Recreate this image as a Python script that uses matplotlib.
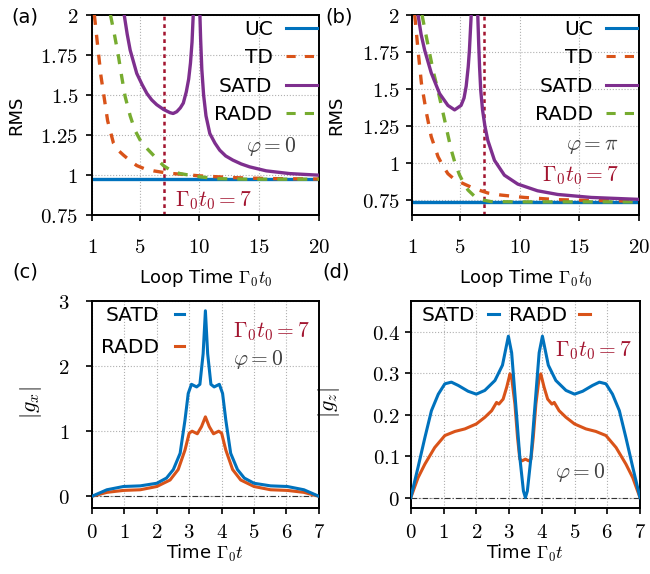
import numpy as np
import matplotlib
matplotlib.use("Agg")
import matplotlib.pyplot as plt
import matplotlib.ticker as ticker

plt.rcParams['font.family'] = ['DejaVu Sans']
plt.rcParams['mathtext.fontset'] = 'cm'
plt.rcParams['axes.unicode_minus'] = False

# colours
BLUE = "#0072BD"
ORANGE = "#D95319"
PURPLE = "#7E2F8E"
GREEN = "#77AC30"
CRIMSON = "#A2142F"
GREY = "#404040"

# ---- data: panel (a), phi = 0 ----
a_uc = 0.975
a_td_x = [1.2, 1.4, 1.56, 1.75, 1.97, 2.31, 2.8, 3.2, 3.64, 4.2, 4.75, 5.4, 6.15, 7.0, 7.8, 10.0, 12.8, 15.6, 20.0]
a_td_y = [2.0, 1.86, 1.75, 1.62, 1.51, 1.34, 1.2, 1.155, 1.125, 1.09, 1.06, 1.04, 1.027, 1.017, 1.01, 0.996, 0.985, 0.979, 0.976]
a_radd_x = [2.55, 2.9, 3.2, 3.5, 3.78, 4.2, 4.6, 5.1, 5.6, 5.87, 6.98, 7.6, 8.37, 10.0, 11.5, 14.0, 20.0]
a_radd_y = [2.0, 1.87, 1.75, 1.61, 1.49, 1.37, 1.28, 1.21, 1.167, 1.146, 1.06, 1.03, 1.01, 0.99, 0.978, 0.975, 0.975]
a_satd_x = [3.7, 3.95, 4.2, 4.75, 5.2, 5.6, 6.0, 6.42, 7.0, 7.54, 7.8, 8.1, 8.4, 8.65, 8.9, 9.1, 9.25, 9.38, 9.48,
            np.nan,
            10.04, 10.1, 10.2, 10.35, 10.55, 10.87, 11.3, 11.7, 12.2, 12.8, 13.5, 14.2, 15.6, 17.55, 20.0]
a_satd_y = [2.0, 1.88, 1.78, 1.635, 1.565, 1.51, 1.47, 1.44, 1.41, 1.39, 1.385, 1.396, 1.42, 1.45, 1.52, 1.6, 1.7, 1.83, 2.0,
            np.nan,
            2.0, 1.85, 1.66, 1.5, 1.37, 1.26, 1.2, 1.156, 1.12, 1.094, 1.07, 1.052, 1.027, 1.01, 1.0]

# ---- data: panel (b), phi = pi ----
b_uc = 0.739
b_td_x = [1.22, 1.5, 1.78, 2.2, 2.6, 3.17, 3.6, 4.0, 4.5, 5.1, 6.2, 7.34, 8.45, 10.4, 13.2, 16.0, 20.0]
b_td_y = [2.0, 1.76, 1.54, 1.34, 1.18, 1.045, 0.98, 0.93, 0.895, 0.87, 0.83, 0.80, 0.786, 0.77, 0.755, 0.75, 0.745]
b_radd_x = [1.83, 2.15, 2.47, 2.8, 3.17, 3.45, 3.73, 4.0, 4.28, 4.6, 4.98, 5.3, 5.68, 6.2, 6.79, 7.6, 10.0, 20.0]
b_radd_y = [2.0, 1.87, 1.74, 1.61, 1.49, 1.39, 1.29, 1.19, 1.09, 1.0, 0.92, 0.87, 0.82, 0.78, 0.755, 0.742, 0.74, 0.74]
b_satd_x = [1.5, 1.75, 2.06, 2.6, 3.3, 4.0, 4.56, 5.1, 5.35, 5.53, 5.7, 5.8, 5.95,
            np.nan,
            6.5, 6.58, 6.65, 6.75, 6.9, 7.1, 7.34, 7.9, 8.73, 9.85, 11.5, 13.2, 16.0, 20.0]
b_satd_y = [2.0, 1.87, 1.76, 1.61, 1.47, 1.39, 1.36, 1.39, 1.44, 1.52, 1.65, 1.76, 2.0,
            np.nan,
            2.0, 1.8, 1.65, 1.49, 1.36, 1.25, 1.155, 1.02, 0.92, 0.86, 0.815, 0.79, 0.77, 0.757]

# ---- data: panel (c), |g_x| ----
c_satd_t = [0, 0.46, 0.97, 1.49, 2.0, 2.3, 2.51, 2.72, 2.87, 2.97, 3.07, 3.15, 3.23, 3.33, 3.43, 3.5,
            3.57, 3.67, 3.77, 3.85, 3.93, 4.03, 4.13, 4.28, 4.49, 4.7, 5.0, 5.51, 6.03, 6.54, 7.0]
c_satd_g = [0, 0.10, 0.15, 0.16, 0.2, 0.28, 0.41, 0.66, 1.17, 1.58, 1.72, 1.70, 1.68, 1.72, 2.19, 2.85,
            2.19, 1.72, 1.68, 1.70, 1.72, 1.58, 1.17, 0.66, 0.41, 0.28, 0.2, 0.16, 0.15, 0.10, 0]
c_radd_t = [0, 0.46, 0.97, 1.49, 2.0, 2.41, 2.66, 2.87, 3.0, 3.09, 3.25, 3.38, 3.5,
            3.62, 3.75, 3.91, 4.0, 4.13, 4.34, 4.59, 5.0, 5.51, 6.03, 6.54, 7.0]
c_radd_g = [0, 0.06, 0.09, 0.10, 0.15, 0.25, 0.41, 0.71, 0.97, 1.0, 0.96, 1.07, 1.22,
            1.07, 0.96, 1.0, 0.97, 0.71, 0.41, 0.25, 0.15, 0.10, 0.09, 0.06, 0]

# ---- data: panel (d), |g_z| ----
d_satd_t = [0, 0.22, 0.43, 0.63, 0.84, 1.04, 1.24, 1.45, 1.75, 2.0, 2.26, 2.57, 2.8, 2.98, 3.08, 3.16, 3.23, 3.33, 3.44, 3.5,
            3.56, 3.67, 3.77, 3.84, 3.92, 4.02, 4.2, 4.43, 4.74, 5.0, 5.25, 5.55, 5.76, 5.96, 6.16, 6.37, 6.57, 6.78, 7.0]
d_satd_g = [0, 0.073, 0.145, 0.21, 0.25, 0.275, 0.279, 0.271, 0.257, 0.25, 0.259, 0.283, 0.32, 0.39, 0.35, 0.27, 0.2, 0.097, 0.016, 0,
            0.016, 0.097, 0.2, 0.27, 0.35, 0.39, 0.32, 0.283, 0.259, 0.25, 0.257, 0.271, 0.279, 0.275, 0.25, 0.21, 0.145, 0.073, 0]
d_radd_t = [0, 0.22, 0.43, 0.73, 1.04, 1.35, 1.65, 2.0, 2.26, 2.47, 2.62, 2.69, 2.82, 2.93, 3.03, 3.08, 3.18, 3.26, 3.33, 3.40, 3.5,
            3.60, 3.67, 3.74, 3.82, 3.92, 3.97, 4.07, 4.18, 4.31, 4.38, 4.53, 4.74, 5.0, 5.35, 5.65, 5.96, 6.27, 6.57, 6.78, 7.0]
d_radd_g = [0, 0.048, 0.081, 0.121, 0.15, 0.16, 0.166, 0.178, 0.194, 0.21, 0.23, 0.226, 0.238, 0.267, 0.299, 0.29, 0.226, 0.145, 0.093, 0.089, 0.093,
            0.089, 0.093, 0.145, 0.226, 0.29, 0.299, 0.267, 0.238, 0.226, 0.23, 0.21, 0.194, 0.178, 0.166, 0.16, 0.15, 0.121, 0.081, 0.048, 0]

t0 = 7
TICK_FS = 15
LEG_FS = 14.5
LAB_FS = 13
ANN_FS = 15.5

fig = plt.figure(figsize=(6.5, 5.74), dpi=100)
ax_a = fig.add_axes([0.1415, 0.625, 0.349, 0.349])
ax_b = fig.add_axes([0.634, 0.625, 0.349, 0.349])
ax_c = fig.add_axes([0.1415, 0.115, 0.349, 0.3606])
ax_d = fig.add_axes([0.632, 0.115, 0.3526, 0.3606])


def style(ax, xpad, ypad):
    ax.grid(True, color="#b0b0b0", linestyle=":", linewidth=0.8)
    ax.set_axisbelow(True)
    for s in ax.spines.values():
        s.set_linewidth(1.4)
    ax.tick_params(direction="out", length=4, width=1.2, labelsize=TICK_FS)
    ax.tick_params(axis="x", pad=xpad)
    ax.tick_params(axis="y", pad=ypad)
    ax.xaxis.set_major_formatter(ticker.FuncFormatter(lambda v, p: "$%g$" % v))
    ax.yaxis.set_major_formatter(ticker.FuncFormatter(lambda v, p: "$%g$" % v))


def rms_panel(ax, uc, td_x, td_y, satd_x, satd_y, radd_x, radd_y, ylo, ypad):
    ax.axvline(t0, color=CRIMSON, linestyle=(0, (1.5, 1.5)), linewidth=1.8, zorder=1)
    ax.axhline(uc, color=BLUE, linewidth=2.4, label="UC", zorder=2)
    ax.plot(td_x, td_y, color=ORANGE, linewidth=2.4, linestyle=(0, (3, 3)), label="TD", zorder=3)
    ax.plot(satd_x, satd_y, color=PURPLE, linewidth=2.4, label="SATD", zorder=4)
    ax.plot(radd_x, radd_y, color=GREEN, linewidth=2.4, linestyle=(0, (3, 3)), label="RADD", zorder=3)
    ax.set_xlim(1, 20)
    ax.set_ylim(ylo, 2)
    ax.set_xticks([1, 5, 10, 15, 20])
    ax.set_yticks([0.75, 1, 1.25, 1.5, 1.75, 2])
    style(ax, 12, ypad)
    ax.set_xlabel(r"Loop Time $\Gamma_0 t_0$", fontsize=LAB_FS)
    ax.set_ylabel("RMS", fontsize=LAB_FS)
    ax.xaxis.set_label_coords(0.5, -0.26)
    ax.yaxis.set_label_coords(-0.295, 0.5)
    leg = ax.legend(loc="upper right", frameon=False, markerfirst=False, fontsize=LEG_FS,
                    handlelength=1.55, handletextpad=0.65, labelspacing=0.47,
                    borderaxespad=0.0, borderpad=0.1, bbox_to_anchor=(1.0, 0.985))
    for ln in leg.get_lines():
        ln.set_linewidth(2.2)


rms_panel(ax_a, a_uc, a_td_x, a_td_y, a_satd_x, a_satd_y, a_radd_x, a_radd_y, 0.75, 6)
ax_a.text(13.9, 1.177, r"$\varphi = 0$", color=GREY, fontsize=ANN_FS, va="center")
ax_a.text(7.95, 0.844, r"$\Gamma_0 t_0 = 7$", color=CRIMSON, fontsize=ANN_FS, va="center")

rms_panel(ax_b, b_uc, b_td_x, b_td_y, b_satd_x, b_satd_y, b_radd_x, b_radd_y, 0.65, 5)
ax_b.text(13.9, 1.117, r"$\varphi = \pi$", color=GREY, fontsize=ANN_FS, va="center")
ax_b.text(11.9, 0.92, r"$\Gamma_0 t_0 = 7$", color=CRIMSON, fontsize=ANN_FS, va="center")

# panel (c)
ax_c.axhline(0, color="#333333", linewidth=0.8, linestyle=(0, (5, 2, 1, 2)), zorder=1)
ax_c.plot(c_satd_t, c_satd_g, color=BLUE, linewidth=2.2, label="SATD", zorder=3)
ax_c.plot(c_radd_t, c_radd_g, color=ORANGE, linewidth=2.2, label="RADD", zorder=2)
ax_c.set_xlim(0, 7)
ax_c.set_ylim(-0.18, 3)
ax_c.set_xticks(range(8))
ax_c.set_yticks([0, 1, 2, 3])
style(ax_c, 6, 12)
ax_c.set_xlabel(r"Time $\Gamma_0 t$", fontsize=LAB_FS)
ax_c.set_ylabel(r"$|g_x|$", fontsize=16)
ax_c.xaxis.set_label_coords(0.5, -0.169)
ax_c.yaxis.set_label_coords(-0.21, 0.507)
ax_c.legend(loc="upper left", frameon=False, markerfirst=False, fontsize=LEG_FS,
            handlelength=0.45, handletextpad=0.8, labelspacing=0.65,
            borderaxespad=0.0, borderpad=0.1, bbox_to_anchor=(0.03, 0.985))
ax_c.text(4.35, 2.53, r"$\Gamma_0 t_0 = 7$", color=CRIMSON, fontsize=ANN_FS, va="center")
ax_c.text(4.35, 2.1, r"$\varphi = 0$", color=GREY, fontsize=ANN_FS, va="center")

# panel (d)
ax_d.axhline(0, color="#333333", linewidth=0.8, linestyle=(0, (5, 2, 1, 2)), zorder=1)
ax_d.plot(d_satd_t, d_satd_g, color=BLUE, linewidth=2.2, label="SATD", zorder=3)
ax_d.plot(d_radd_t, d_radd_g, color=ORANGE, linewidth=2.2, label="RADD", zorder=2)
ax_d.set_xlim(0, 7)
ax_d.set_ylim(-0.025, 0.475)
ax_d.set_xticks(range(8))
ax_d.set_yticks([0, 0.1, 0.2, 0.3, 0.4])
style(ax_d, 6, 4)
ax_d.set_xlabel(r"Time $\Gamma_0 t$", fontsize=LAB_FS)
ax_d.set_ylabel(r"$|g_z|$", fontsize=16)
ax_d.xaxis.set_label_coords(0.5, -0.169)
ax_d.yaxis.set_label_coords(-0.30, 0.507)
ax_d.legend(loc="upper left", frameon=False, markerfirst=False, fontsize=LEG_FS, ncol=2,
            handlelength=0.55, handletextpad=0.6, columnspacing=0.5,
            borderaxespad=0.0, borderpad=0.1, bbox_to_anchor=(0.04, 0.985))
ax_d.text(4.4, 0.356, r"$\Gamma_0 t_0 = 7$", color=CRIMSON, fontsize=ANN_FS, va="center")
ax_d.text(4.4, 0.061, r"$\varphi = 0$", color=GREY, fontsize=ANN_FS, va="center")

# panel letters
fig.text(0.017, 0.970, "(a)", fontsize=14, va="center")
fig.text(0.500, 0.970, "(b)", fontsize=14, va="center")
fig.text(0.019, 0.526, "(c)", fontsize=14, va="center")
fig.text(0.496, 0.526, "(d)", fontsize=14, va="center")

fig.savefig("out.png", dpi=100)
